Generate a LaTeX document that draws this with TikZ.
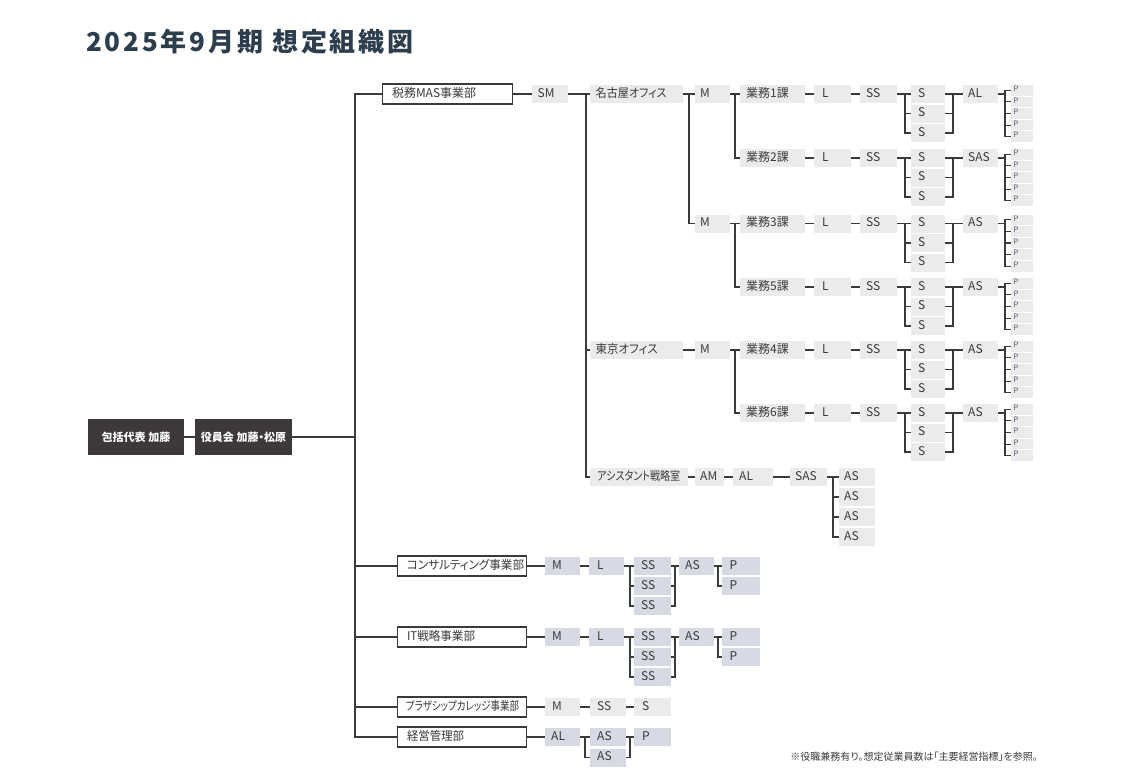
\documentclass[tikz,border=0pt]{standalone}
\usepackage{fontspec}
\usepackage{graphicx}
\setmainfont{Noto Sans CJK JP}[RawFeature=+palt]
\newfontfamily\titlefont{Noto Sans CJK JP}[LetterSpace=11]
\definecolor{lc}{HTML}{3A3A3A}
\definecolor{tc}{HTML}{3A3A3A}
\definecolor{g1}{HTML}{EBEBEB}
\definecolor{lav}{HTML}{D7D9E4}
\definecolor{dk}{HTML}{3D3939}
\definecolor{titlec}{HTML}{2C3E4D}
\definecolor{pc}{HTML}{4F5870}
\tikzset{
  ln/.style={draw=lc, line width=1.1pt},
  basebox/.style={inner sep=0pt, text=tc, font=\fontsize{12}{12}\selectfont, text height=9pt, text depth=3pt},
  gbox/.style={basebox, fill=g1, minimum height=18pt},
  lbox/.style={basebox, fill=lav, minimum height=18pt},
  obox/.style={basebox, draw=lc, line width=1.1pt, fill=white, minimum height=20pt},
  pbox/.style={inner sep=0pt, fill=g1, minimum height=10.6pt, text=pc, font=\fontsize{7.5}{7.5}\selectfont, text height=5.5pt, text depth=3pt},
  dbox/.style={inner sep=0pt, fill=dk, text=white, minimum height=36pt, font=\fontsize{11}{11}\selectfont\bfseries}
}
\newcommand\fw[2]{\resizebox{#1pt}{\height}{#2}}
\newcommand\Bx[7]{%
  \pgfmathsetmacro\bxw{#4-#3}%
  \pgfmathsetmacro\bxy{#5}%
  \node[#1, anchor=west, minimum width=\bxw pt] (#2) at (#3,\bxy) {\makebox[\bxw pt][l]{\hspace{#6pt}#7}};}
\begin{document}
\begin{tikzpicture}[x=1pt,y=-1pt]
\useasboundingbox (0,0) rectangle (1126,777);
\fill[white] (0,0) rectangle (1126,777);

% title
\node[anchor=west, inner sep=0pt, text=titlec, font=\titlefont\fontsize{26}{26}\selectfont\bfseries] (title) at (86,42) {2025年9月期 想定組織図};

% top boxes
\node[dbox, minimum width=96pt] (hokatsu) at (136,437) {包括代表 加藤};
\node[dbox, minimum width=97pt] (yakuin) at (243.5,437) {役員会 加藤・松原};
\coordinate (tj) at (355,437);

% ===== 税務MAS事業部 =====
\Bx{obox}{zeimu}{382}{512}{94}{9.5}{\fw{84}{税務MAS事業部}}
\Bx{gbox}{sm}{532}{568}{94}{5.5}{SM}
\Bx{gbox}{nagoya}{590}{683}{94}{5.5}{\fw{71}{名古屋オフィス}}
\Bx{gbox}{m1}{695}{730}{94}{5}{M}
\Bx{gbox}{m2}{695}{730}{223.5}{5}{M}
\Bx{gbox}{tokyo}{590}{683}{350}{5.5}{\fw{62}{東京オフィス}}
\Bx{gbox}{m3}{695}{730}{350}{5}{M}
\Bx{gbox}{asst}{590}{688}{477}{7}{\fw{83}{アシスタント戦略室}}
\Bx{gbox}{am}{695}{724}{477}{5}{AM}
\Bx{gbox}{asal}{733}{773}{477}{6}{AL}
\Bx{gbox}{assas}{790}{827}{477}{5}{SAS}
\foreach \k in {1,...,4}{
  \Bx{gbox}{as\k}{839}{875}{477+20*(\k-1)}{5}{AS}
}

\foreach \id/\y/\lab/\lead in {a/94/業務1課/AL, b/158/業務2課/SAS, c/223.5/業務3課/AS, d/287/業務5課/AS, e/350/業務4課/AS, f/413/業務6課/AS}{
  \Bx{gbox}{\id-g}{740}{805}{\y}{6}{\lab}
  \Bx{gbox}{\id-l}{814}{851}{\y}{8}{L}
  \Bx{gbox}{\id-ss}{860}{897}{\y}{6}{SS}
  \Bx{gbox}{\id-s1}{911}{945}{\y}{7}{S}
  \Bx{gbox}{\id-s2}{911}{945}{\y+19.5}{7}{S}
  \Bx{gbox}{\id-s3}{911}{945}{\y+39}{7}{S}
  \Bx{gbox}{\id-ld}{963}{998}{\y}{5}{\lead}
  \coordinate (\id-ts) at (905,\y);
  \coordinate (\id-tr) at (953,\y);
  \coordinate (\id-tp) at (1005,\y);
  \draw[ln] (\id-g.east) -- (\id-l.west);
  \draw[ln] (\id-l.east) -- (\id-ss.west);
  \draw[ln] (\id-ss.east) -- (\id-s1.west);
  \draw[ln] (\id-ts) |- (\id-s2.west);
  \draw[ln] (\id-ts) |- (\id-s3.west);
  \draw[ln] (\id-s1.east) -- (\id-ld.west);
  \draw[ln] (\id-s2.east) -| (\id-tr);
  \draw[ln] (\id-s3.east) -| (\id-tr);
  \draw[ln] (\id-ld.east) -- (\id-tp);
  \foreach \k in {1,...,5}{
    \Bx{pbox}{\id-p\k}{1011}{1033}{\y-3.7+11.6*(\k-1)}{2.5}{P}
    \draw[ln] (\id-tp) |- (\id-p\k.west);
  }
}

% connectors of 税務
\coordinate (to) at (586,94);
\coordinate (tn) at (689,94);
\coordinate (tm1) at (735,94);
\coordinate (tm2) at (735,223.5);
\coordinate (tm3) at (735,350);
\coordinate (ta) at (833,477);
\draw[ln] (zeimu.east) -- (sm.west);
\draw[ln] (sm.east) -- (nagoya.west);
\draw[ln] (to) |- (tokyo.west);
\draw[ln] (to) |- (asst.west);
\draw[ln] (nagoya.east) -- (m1.west);
\draw[ln] (tn) |- (m2.west);
\draw[ln] (m1.east) -- (a-g.west);
\draw[ln] (tm1) |- (b-g.west);
\draw[ln] (m2.east) -- (c-g.west);
\draw[ln] (tm2) |- (d-g.west);
\draw[ln] (tokyo.east) -- (m3.west);
\draw[ln] (m3.east) -- (e-g.west);
\draw[ln] (tm3) |- (f-g.west);
\draw[ln] (asst.east) -- (am.west);
\draw[ln] (am.east) -- (asal.west);
\draw[ln] (asal.east) -- (assas.west);
\draw[ln] (assas.east) -- (as1.west);
\draw[ln] (ta) |- (as2.west);
\draw[ln] (ta) |- (as3.west);
\draw[ln] (ta) |- (as4.west);

% ===== コンサルティング / IT =====
\foreach \id/\y/\lab in {con/566/{\fw{117}{コンサルティング事業部}}, it/637/{\fw{68}{IT戦略事業部}}}{
  \Bx{obox}{\id}{397}{526}{\y}{9.5}{\lab}
  \Bx{lbox}{\id-m}{545}{580}{\y}{7}{M}
  \Bx{lbox}{\id-l}{589}{624}{\y}{8}{L}
  \Bx{lbox}{\id-ss1}{634}{671}{\y}{7}{SS}
  \Bx{lbox}{\id-ss2}{634}{671}{\y+20}{7}{SS}
  \Bx{lbox}{\id-ss3}{634}{671}{\y+40}{7}{SS}
  \Bx{lbox}{\id-as}{679}{714}{\y}{6}{AS}
  \Bx{lbox}{\id-p1}{722}{760}{\y}{7.5}{P}
  \Bx{lbox}{\id-p2}{722}{760}{\y+20}{7.5}{P}
  \coordinate (\id-t1) at (630,\y);
  \coordinate (\id-t2) at (675,\y);
  \coordinate (\id-t3) at (718,\y);
  \draw[ln] (\id.east) -- (\id-m.west);
  \draw[ln] (\id-m.east) -- (\id-l.west);
  \draw[ln] (\id-l.east) -- (\id-ss1.west);
  \draw[ln] (\id-t1) |- (\id-ss2.west);
  \draw[ln] (\id-t1) |- (\id-ss3.west);
  \draw[ln] (\id-ss1.east) -- (\id-as.west);
  \draw[ln] (\id-ss2.east) -| (\id-t2);
  \draw[ln] (\id-ss3.east) -| (\id-t2);
  \draw[ln] (\id-as.east) -- (\id-p1.west);
  \draw[ln] (\id-t3) |- (\id-p2.west);
}

% ===== プラザシップカレッジ事業部 =====
\Bx{obox}{plaza}{397}{526}{707}{8.5}{\fw{113}{プラザシップカレッジ事業部}}
\Bx{gbox}{pl-m}{545}{580}{707}{7}{M}
\Bx{gbox}{pl-ss}{590}{626}{707}{7}{SS}
\Bx{gbox}{pl-s}{634}{671}{707}{8}{S}
\draw[ln] (plaza.east) -- (pl-m.west);
\draw[ln] (pl-m.east) -- (pl-ss.west);
\draw[ln] (pl-ss.east) -- (pl-s.west);

% ===== 経営管理部 =====
\Bx{obox}{keiei}{397}{526}{737}{9.5}{\fw{57}{経営管理部}}
\Bx{lbox}{ke-al}{545}{580}{737}{6}{AL}
\Bx{lbox}{ke-as1}{590}{626}{737}{7}{AS}
\Bx{lbox}{ke-as2}{590}{626}{757.5}{7}{AS}
\Bx{lbox}{ke-p}{634}{671}{737}{8}{P}
\coordinate (ke-t1) at (585,737);
\coordinate (ke-t2) at (630,737);
\draw[ln] (keiei.east) -- (ke-al.west);
\draw[ln] (ke-al.east) -- (ke-as1.west);
\draw[ln] (ke-t1) |- (ke-as2.west);
\draw[ln] (ke-as1.east) -- (ke-p.west);
\draw[ln] (ke-as2.east) -| (ke-t2);

% trunk
\draw[ln] (hokatsu.east) -- (yakuin.west);
\draw[ln] (yakuin.east) -- (tj);
\draw[ln] (tj) |- (zeimu.west);
\draw[ln] (tj) |- (con.west);
\draw[ln] (tj) |- (it.west);
\draw[ln] (tj) |- (plaza.west);
\draw[ln] (tj) |- (keiei.west);

% footnote
\node[anchor=east, inner sep=0pt, text=tc, font=\fontsize{10}{10}\selectfont] (note) at (1038,757) {※役職兼務有り。想定従業員数は「主要経営指標」を参照。};
\end{tikzpicture}
\end{document}
